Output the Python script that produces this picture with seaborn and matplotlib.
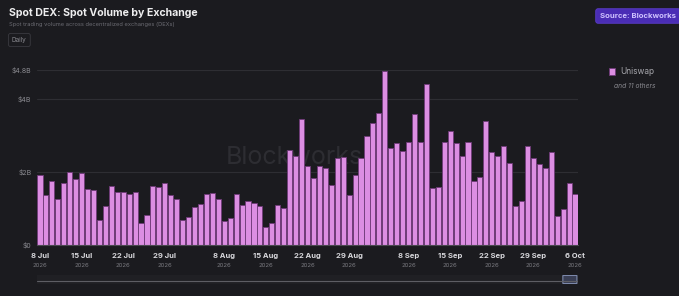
import matplotlib
matplotlib.use("Agg")
import matplotlib.pyplot as plt
import seaborn as sns
import pandas as pd
from matplotlib.patches import Patch, FancyBboxPatch
from matplotlib.transforms import blended_transform_factory

# daily spot volume on Uniswap, $B, 8 Jul -> 6 Oct
days = pd.date_range("2026-07-08", "2026-10-06", freq="D")
uniswap_volume = [
    1.92, 1.37, 1.76, 1.26, 1.71, 1.99, 1.80, 1.98, 1.54, 1.51,
    0.68, 1.06, 1.61, 1.45, 1.45, 1.39, 1.45, 0.59, 0.82, 1.61,
    1.60, 1.70, 1.37, 1.27, 0.69, 0.77, 1.03, 1.12, 1.39, 1.42,
    1.27, 0.66, 0.74, 1.41, 1.10, 1.22, 1.14, 1.07, 0.49, 0.59,
    1.11, 1.01, 2.60, 2.44, 3.46, 2.18, 1.85, 2.18, 2.10, 1.64,
    2.38, 2.42, 1.37, 1.91, 2.38, 3.00, 3.35, 3.61, 4.78, 2.67,
    2.81, 2.57, 2.82, 3.59, 2.83, 4.42, 1.56, 1.60, 2.83, 3.14,
    2.80, 2.45, 2.83, 1.75, 1.86, 3.39, 2.54, 2.45, 2.71, 2.25,
    1.06, 1.20, 2.72, 2.38, 2.23, 2.11, 2.55, 0.79, 1.00, 1.70,
    1.39,
]
tick_days = ["2026-07-08", "2026-07-15", "2026-07-22", "2026-07-29",
             "2026-08-08", "2026-08-15", "2026-08-22", "2026-08-29",
             "2026-09-08", "2026-09-15", "2026-09-22", "2026-09-29",
             "2026-10-06"]
tick_labels = ["8 Jul", "15 Jul", "22 Jul", "29 Jul", "8 Aug", "15 Aug",
               "22 Aug", "29 Aug", "8 Sep", "15 Sep", "22 Sep", "29 Sep",
               "6 Oct"]
y_ticks = [0, 2, 4, 4.8]
y_labels = ["$0", "$2B", "$4B", "$4.8B"]

bg = "#1b1b1f"
bar_color = "#dc8ee2"
edge_color = "#6e3a78"

sns.set_theme(style="dark")
plt.rcParams["font.family"] = ["Inter", "DejaVu Sans"]

df = pd.DataFrame({"day": days.strftime("%Y-%m-%d"), "volume": uniswap_volume})

fig = plt.figure(figsize=(6.79, 2.96), dpi=100, facecolor=bg)
ax = fig.add_axes([37 / 679, 51 / 296, 541 / 679, 175 / 296])
ax.set_facecolor(bg)

sns.barplot(data=df, x="day", y="volume", color=bar_color, saturation=1,
            edgecolor=edge_color, linewidth=0.6, width=0.86, ax=ax, zorder=2)

ax.set_xlim(-0.5, len(df) - 0.5)
ax.set_ylim(0, 4.8)
ax.set_xlabel("")
ax.set_ylabel("")

# y axis
ax.set_yticks(y_ticks)
ax.set_yticklabels(y_labels, fontsize=5, color="#8c8c92")
ax.yaxis.grid(True, color="#2e2e33", linewidth=0.8)
ax.xaxis.grid(False)
ax.tick_params(axis="y", length=0, pad=4)

# x axis: day label + year below
day_list = list(df["day"])
tick_idx = [day_list.index(d) for d in tick_days]
ax.set_xticks(tick_idx)
ax.set_xticklabels(tick_labels, fontsize=5.5, color="#d8d8dc", fontweight="bold")
ax.tick_params(axis="x", length=2, width=0.6, color="#55555b", pad=4)
trans = blended_transform_factory(ax.transData, ax.transAxes)
for i in tick_idx:
    ax.text(i, -0.118, "2026", transform=trans, fontsize=4.3, color="#7a7a80",
            ha="center", va="center")

for side in ["top", "right", "left"]:
    ax.spines[side].set_visible(False)
ax.spines["bottom"].set_color("#4a4a50")
ax.spines["bottom"].set_linewidth(0.8)

# watermark
ax.text(0.475, 0.5, "Blockworks", transform=ax.transAxes, fontsize=18,
        color="#2d2d32", ha="center", va="center", zorder=1)

# legend
ax.legend(handles=[Patch(facecolor=bar_color, edgecolor=edge_color, linewidth=0.6)],
          labels=["Uniswap"], loc="center left",
          bbox_to_anchor=(601 / 679, 1 - 72 / 296), bbox_transform=fig.transFigure,
          frameon=False, handlelength=0.8, handleheight=0.8, handletextpad=0.6,
          fontsize=6, labelcolor="#a8a8ae")
fig.text(614 / 679, 1 - 86 / 296, "and 11 others", fontsize=4.8, style="italic",
         color="#8a8a90", va="center")

# header
fig.text(9 / 679, 1 - 13 / 296, "Spot DEX: Spot Volume by Exchange", fontsize=7.6,
         fontweight="bold", color="#eeeeef", va="center")
fig.text(9 / 679, 1 - 24.5 / 296,
         "Spot trading volume across decentralized exchanges (DEXs)",
         fontsize=4.1, color="#6c6c73", va="center")
fig.text(12 / 679, 1 - 40 / 296, "Daily", fontsize=4.6, color="#8a8a90", va="center",
         bbox=dict(boxstyle="round,pad=0.55,rounding_size=0.3", facecolor=bg,
                   edgecolor="#3a3a40", linewidth=0.6))
fig.text(600 / 679, 1 - 16 / 296, "Source: Blockworks", fontsize=5.6,
         fontweight="bold", color="#cfc2ff", va="center",
         bbox=dict(boxstyle="round,pad=0.55,rounding_size=0.3", facecolor="#4a2db5",
                   edgecolor="#5a3cc8", linewidth=0.6))

# navigator strip
nav = fig.add_axes([37 / 679, 12 / 296, 541 / 679, 9 / 296])
nav.set_facecolor("#202024")
nav.set_xlim(0, 1)
nav.set_ylim(0, 1)
nav.axhline(0.3, color="#5e5e64", linewidth=0.8)
nav.add_patch(FancyBboxPatch((0.972, 0.05), 0.026, 0.9,
                             boxstyle="round,pad=0,rounding_size=0.005",
                             facecolor="#3a3f55", edgecolor="#7c88aa", linewidth=0.8))
nav.set_xticks([])
nav.set_yticks([])
for s in nav.spines.values():
    s.set_visible(False)

fig.savefig("out.png", dpi=100, facecolor=bg)
